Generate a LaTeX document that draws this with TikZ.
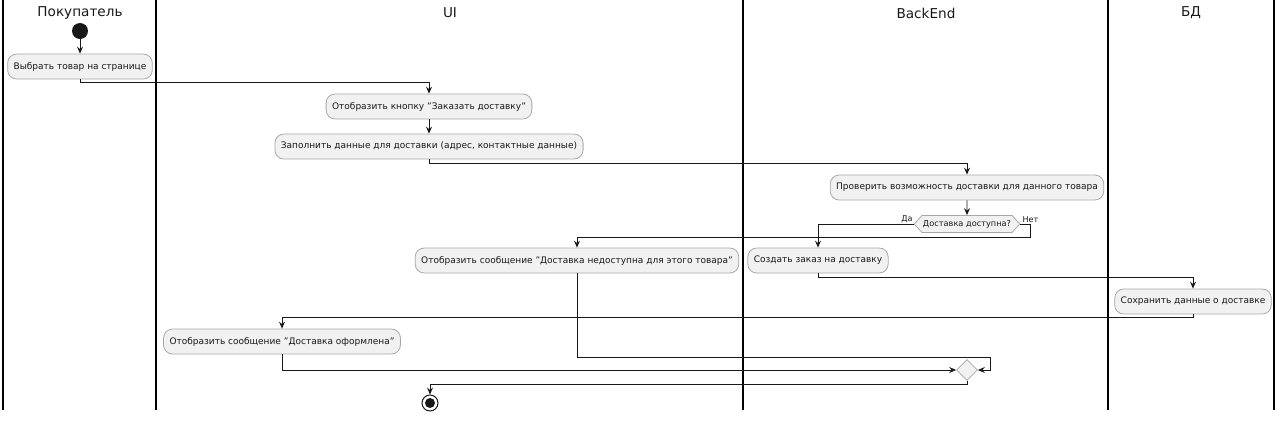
\documentclass[tikz,border=0pt]{standalone}
\usepackage{fontspec}
\setmainfont{DejaVu Sans}
\usetikzlibrary{arrows.meta,shapes.geometric,shapes.symbols}
\definecolor{boxfill}{HTML}{F1F1F1}
\definecolor{boxline}{HTML}{A8A8A8}
\definecolor{linec}{HTML}{181818}
\begin{document}
\begin{tikzpicture}[x=1pt,y=-1pt,
  act/.style={draw=boxline,fill=boxfill,rounded corners=9pt,minimum height=25pt,inner xsep=6pt,inner ysep=0pt,font=\fontsize{9}{11}\selectfont,text=linec,line width=0.8pt},
  flow/.style={draw=linec,line width=0.9pt,-{Stealth[length=7pt,width=6pt,inset=2.5pt]}},
  lane/.style={draw=black,line width=1.2pt},
  title/.style={font=\fontsize{13.6}{16}\selectfont,text=linec},
  lbl/.style={font=\fontsize{8}{9}\selectfont,text=linec,inner sep=1pt}]
\useasboundingbox (0,0) rectangle (1280,421);
% swimlanes
\foreach \x in {3,156,743,1108,1274} \draw[lane] (\x,0) -- (\x,410);
\node[title] (t1) at (80,13) {Покупатель};
\node[title] (t2) at (450,13) {UI};
\node[title] (t3) at (926,13) {BackEnd};
\node[title] (t4) at (1191,13) {БД};
% nodes
\node[circle,fill=linec,minimum size=16pt,inner sep=0pt] (start) at (80,31) {};
\node[act] (a1) at (80,66.5) {Выбрать товар на странице};
\node[act] (a2) at (429,106.5) {Отобразить кнопку "Заказать доставку"};
\node[act] (a3) at (429,146.5) {Заполнить данные для доставки (адрес, контактные данные)};
\node[act] (a4) at (967,187.5) {Проверить возможность доставки для данного товара};
\node[signal,signal to=east and west,signal pointer angle=95,draw=boxline,fill=boxfill,line width=0.8pt,minimum height=17pt,inner xsep=1pt,inner ysep=0pt,font=\fontsize{8.2}{9}\selectfont,text=linec] (d1) at (967,224) {Доставка доступна?};
\node[lbl,anchor=south east] (da) at (d1.west) {Да};
\node[lbl,anchor=south west] (net) at ([xshift=1pt]d1.east) {Нет};
\node[act] (a5) at (818,260.5) {Создать заказ на доставку};
\node[act] (a6) at (577,260.5) {Отобразить сообщение "Доставка недоступна для этого товара"};
\node[act] (a7) at (1193,301.5) {Сохранить данные о доставке};
\node[act] (a8) at (282,341.5) {Отобразить сообщение "Доставка оформлена"};
\node[diamond,draw=boxline,fill=boxfill,line width=0.8pt,minimum size=21pt,inner sep=0pt] (m) at (967,370) {};
\node[circle,draw=linec,line width=1pt,minimum size=16pt,inner sep=0pt] (end) at (430,403) {};
\fill[linec] (end.center) circle (5pt);
\coordinate (c1) at (990,357);
% connectors
\draw[flow] (start) -- (a1);
\draw[flow] (a1.south) -- ++(0,3) -| (a2.north);
\draw[flow] (a2) -- (a3);
\draw[flow] (a3.south) -- ++(0,4) -| (a4.north);
\draw[flow] (a4) -- (d1);
\draw[flow] (d1.west) -| (a5.north);
\draw[flow] (d1.east) -- ++(10,0) -- ++(0,13) -| (a6.north);
\draw[flow] (a5.south) -- ++(0,4) -| (a7.north);
\draw[flow] (a7.south) -- ++(0,3) -| (a8.north);
\draw[flow] (a8.south) |- (m.west);
\draw[flow] (a6.south) |- (c1) |- (m.east);
\draw[flow] (m.south) -- ++(0,4) -| (end.north);
\end{tikzpicture}
\end{document}
